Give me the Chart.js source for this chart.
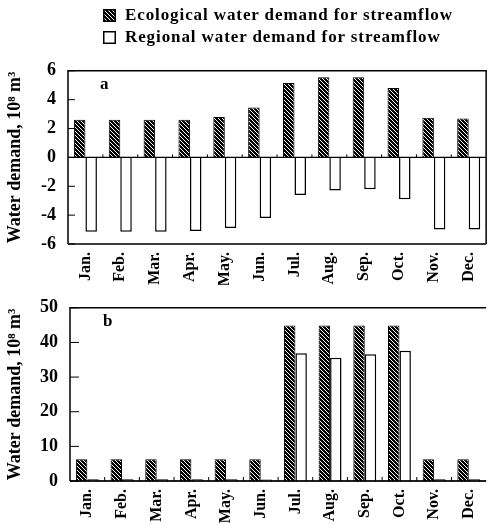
<!DOCTYPE html>
<html>
<head>
<meta charset="utf-8">
<script src="https://cdn.jsdelivr.net/npm/chart.js@4.4.0/dist/chart.umd.min.js"></script>
<style>
  html, body { margin: 0; padding: 0; background: #fff; overflow: hidden; }
  body { width: 496px; height: 524px; position: relative; font-family: 'Liberation Serif', 'DejaVu Serif', serif; }
  #legend { position: absolute; left: 103px; top: 4px; font-size: 17px; font-weight: bold; color: #000; }
  #legend .item { height: 22px; display: flex; align-items: center; white-space: nowrap; letter-spacing: 0.9px; }
  #legend canvas { width: 13px; height: 13px; margin-right: 9px; }
  .wrap { position: absolute; left: 0; width: 496px; }
  #wrapA { top: 48px; height: 237px; }
  #wrapB { top: 285px; height: 239px; }
</style>
</head>
<body>
<div id="legend">
  <div class="item"><canvas id="swEco" width="13" height="13"></canvas>Ecological water demand for streamflow</div>
  <div class="item"><canvas id="swReg" width="13" height="13"></canvas>Regional water demand for streamflow</div>
</div>
<div class="wrap" id="wrapA"><canvas id="chartA"></canvas></div>
<div class="wrap" id="wrapB"><canvas id="chartB"></canvas></div>
<script>
// data (10^8 m^3)
const months = ['Jan.', 'Feb.', 'Mar.', 'Apr.', 'May.', 'Jun.', 'Jul.', 'Aug.', 'Sep.', 'Oct.', 'Nov.', 'Dec.'];
const ecoA = [2.6, 2.6, 2.6, 2.6, 2.8, 3.45, 5.15, 5.55, 5.55, 4.8, 2.75, 2.7];
const regA = [-5.15, -5.15, -5.15, -5.1, -4.9, -4.2, -2.6, -2.3, -2.2, -2.9, -5.0, -5.0];
const ecoB = [6.3, 6.3, 6.3, 6.3, 6.3, 6.3, 44.9, 44.9, 44.9, 44.9, 6.3, 6.3];
const regB = [0.5, 0.5, 0.5, 0.5, 0.5, 0.4, 36.9, 35.6, 36.6, 37.6, 0.5, 0.5];
const ticksA = [-6, -4, -2, 0, 2, 4, 6];
const ticksB = [0, 10, 20, 30, 40, 50];
const yTitle = 'Water demand, 10\u2078 m\u00b3';

const FONT = "'Liberation Serif', 'DejaVu Serif', serif";

// black with white "\" hatching
function makeHatch() {
    const c = document.createElement('canvas');
    c.width = 4; c.height = 4;
    const g = c.getContext('2d');
    g.fillStyle = '#000';
    g.fillRect(0, 0, 4, 4);
    g.strokeStyle = '#fff';
    g.lineWidth = 1;
    g.beginPath();
    g.moveTo(-1, -1); g.lineTo(5, 5);
    g.moveTo(-1, 3); g.lineTo(1, 5);
    g.moveTo(3, -1); g.lineTo(5, 1);
    g.stroke();
    return g.createPattern(c, 'repeat');
}

function drawSwatch(id, fill) {
    const g = document.getElementById(id).getContext('2d');
    g.fillStyle = fill;
    g.fillRect(0, 0, 13, 13);
    g.strokeStyle = '#000';
    g.lineWidth = 1.5;
    g.strokeRect(0.75, 0.75, 11.5, 11.5);
}

const hatch = makeHatch();
drawSwatch('swEco', hatch);
drawSwatch('swReg', '#fff');

// frame, zero line, inward ticks and panel letter
const framePlugin = {
    id: 'frame',
    afterDatasetsDraw(chart, args, opts) {
        const { ctx, chartArea: a, scales } = chart;
        const y = scales.y;
        ctx.save();
        ctx.strokeStyle = '#000';
        ctx.lineWidth = 1.5;
        ctx.beginPath();
        ctx.moveTo(a.left, a.bottom); ctx.lineTo(a.left, a.top); ctx.lineTo(a.right, a.top);
        if (opts.right) { ctx.lineTo(a.right, a.bottom); }
        ctx.moveTo(a.left, a.bottom); ctx.lineTo(a.right, a.bottom);
        ctx.stroke();

        // zero line
        const y0 = y.getPixelForValue(0);
        ctx.lineWidth = 1.2;
        ctx.beginPath();
        ctx.moveTo(a.left, y0); ctx.lineTo(a.right, y0);
        ctx.stroke();

        // category boundary ticks on zero line
        ctx.lineWidth = 1;
        ctx.beginPath();
        const step = (a.right - a.left) / months.length;
        for (let i = 1; i < months.length; i++) {
            const px = a.left + step * i;
            ctx.moveTo(px, y0); ctx.lineTo(px, y0 - opts.xTick);
        }
        // inward y ticks
        y.ticks.forEach((t, i) => {
            const py = y.getPixelForTick(i);
            ctx.moveTo(a.left, py); ctx.lineTo(a.left + opts.yTick, py);
        });
        ctx.stroke();

        ctx.fillStyle = '#000';
        ctx.font = 'bold 17px ' + FONT;
        ctx.textBaseline = 'middle';
        ctx.fillText(opts.letter, a.left + opts.lx, a.top + opts.ly);
        ctx.restore();
    }
};

function makeChart(id, eco, reg, ticks, min, max, pad, frameOpts) {
    return new Chart(document.getElementById(id), {
        type: 'bar',
        data: {
            labels: months,
            datasets: [
                { label: 'Ecological water demand for streamflow', data: eco, backgroundColor: hatch, borderColor: '#000', borderWidth: 1 },
                { label: 'Regional water demand for streamflow', data: reg, backgroundColor: '#fff', borderColor: '#000', borderWidth: 1.5 }
            ]
        },
        options: {
            responsive: true,
            maintainAspectRatio: false,
            animation: false,
            layout: { padding: pad },
            datasets: { bar: { categoryPercentage: 0.66, barPercentage: 1.0 } },
            plugins: {
                legend: { display: false },
                tooltip: { enabled: false },
                frame: frameOpts
            },
            scales: {
                x: {
                    grid: { display: false, drawTicks: false },
                    border: { display: false },
                    ticks: { color: '#000', font: { family: FONT, size: 16, weight: 'bold' }, minRotation: 90, maxRotation: 90, padding: 8 },
                    afterFit(s) { s.height = frameOpts.xh; }
                },
                y: {
                    min: min, max: max,
                    afterBuildTicks(s) { s.ticks = ticks.map(v => ({ value: v })); },
                    grid: { display: false, drawTicks: false },
                    border: { display: false },
                    ticks: { color: '#000', font: { family: FONT, size: 18, weight: 'bold' }, padding: 12 },
                    title: { display: true, text: yTitle, color: '#000', font: { family: FONT, size: 18, weight: 'bold' }, padding: { top: 5, bottom: 0 } },
                    afterFit(s) { s.width = frameOpts.yw; }
                }
            }
        },
        plugins: [framePlugin]
    });
}

makeChart('chartA', ecoA, regA, ticksA, -6, 6, { top: 16, right: 2, left: 0, bottom: 0 },
    { right: true, xTick: 3, yTick: 7, letter: 'a', lx: 32, ly: 14, xh: 41, yw: 68 });
makeChart('chartB', ecoB, regB, ticksB, 0, 50, { top: 18, right: 0, left: 0, bottom: 0 },
    { right: false, xTick: 4, yTick: 9, letter: 'b', lx: 33, ly: 14, xh: 43, yw: 70 });
</script>
</body>
</html>
